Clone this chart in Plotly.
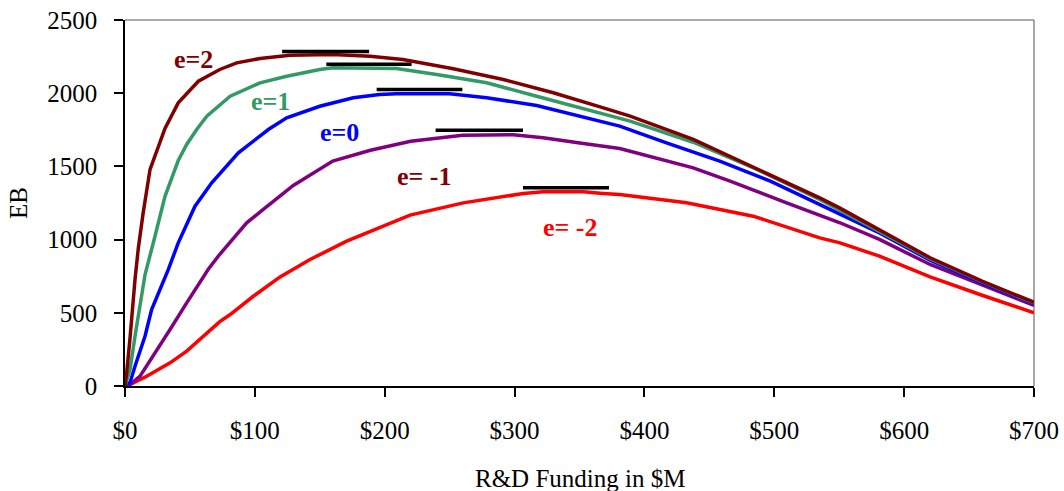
import plotly.graph_objects as go

# ---- data ----
x_e2 = [0, 1.3, 3.9, 6.4, 7.7, 10.3, 14, 19.3, 25.6, 30.8, 41, 56.5, 73, 86, 104, 127, 160, 188.7, 214, 252.8, 291.3, 329.8, 368.4, 389, 437.6, 484, 535, 550.6, 581, 620, 660, 700]
y_e2 = [0, 90, 330, 620, 727, 945, 1183, 1480, 1638, 1760, 1934, 2082, 2162, 2207, 2237, 2260, 2264, 2253, 2230, 2167, 2094, 2003, 1900, 1843, 1684, 1497, 1285, 1215, 1069, 876, 716, 572]

x_e1 = [0, 3.9, 7.7, 11.6, 15.4, 23.1, 30.8, 41, 47.5, 55.2, 63, 81, 104, 124.5, 150, 160, 188.7, 209, 240, 278.5, 317, 355.5, 389, 437.6, 484, 535, 581, 620, 660, 700]
y_e1 = [0, 113, 340, 568, 760, 1023, 1296, 1540, 1650, 1752, 1843, 1979, 2071, 2116, 2162, 2173, 2169, 2169, 2128, 2071, 1979, 1889, 1809, 1665, 1490, 1274, 1057, 870, 712, 568]

x_e0 = [0, 3.9, 7.7, 11.6, 15.4, 20.5, 27, 33.4, 41, 53.9, 66.8, 87.3, 110.4, 124.5, 150, 175.8, 196, 209, 250, 278.5, 317, 348, 381, 417, 458, 497, 535, 550.6, 581, 620, 660, 700]
y_e0 = [0, 24, 135, 249, 340, 522, 659, 796, 978, 1228, 1388, 1593, 1752, 1832, 1911, 1969, 1991, 1996, 1996, 1969, 1916, 1848, 1775, 1661, 1536, 1399, 1240, 1171, 1046, 859, 705, 562]

x_em1 = [0, 3.9, 11.6, 21.8, 34.7, 47.5, 64, 73, 93.7, 106.5, 129.6, 160, 189, 220, 260, 299, 322, 353, 381, 437.6, 466, 509.5, 550.6, 581, 620, 660, 700]
y_em1 = [0, 10, 67, 204, 386, 568, 796, 900, 1115, 1206, 1370, 1536, 1610, 1672, 1713, 1716, 1695, 1656, 1622, 1490, 1399, 1251, 1115, 1001, 830, 690, 550]

x_em2 = [0, 3.9, 16.7, 34.7, 47.5, 63, 73, 81, 98.8, 119.4, 142.5, 170.7, 188.7, 219.5, 260.5, 306.7, 322, 353, 368, 381, 432.5, 483.8, 535, 550.6, 581, 620, 660, 700]
y_em2 = [0, 10, 67, 158, 238, 363, 440, 488, 613, 745, 864, 989, 1057, 1167, 1251, 1315, 1326, 1326, 1315, 1308, 1251, 1160, 1012, 978, 887, 746, 620, 500]

# black horizontal marker bars: [x_start, x_end], level
bar_x = [[121, 188], [155, 220.7], [193.8, 259.8], [239.2, 306.5], [306.5, 372.7]]
bar_y = [2285, 2198, 2025, 1747, 1354]

labels = ["e=2", "e=1", "e=0", "e= -1", "e= -2"]
label_x = [53, 112, 165, 231, 343]
label_y = [2230, 1945, 1730, 1433, 1081]
label_colors = ["#800000", "#339966", "#0000FF", "#800000", "#FF0000"]

series = [
    (x_e2, y_e2, "#800000"),
    (x_e1, y_e1, "#339966"),
    (x_e0, y_e0, "#0000FF"),
    (x_em1, y_em1, "#800080"),
    (x_em2, y_em2, "#FF0000"),
]

x_ticks = [0, 100, 200, 300, 400, 500, 600, 700]
y_ticks = [0, 500, 1000, 1500, 2000, 2500]

FONT = "Liberation Serif, Times New Roman, serif"

fig = go.Figure()
for xs, ys, c in reversed(series):
    fig.add_trace(go.Scatter(x=xs, y=ys, mode="lines",
                             line=dict(color=c, width=3.5), showlegend=False,
                             hoverinfo="skip"))
for bx, by in zip(bar_x, bar_y):
    fig.add_trace(go.Scatter(x=bx, y=[by, by], mode="lines",
                             line=dict(color="black", width=3.5), showlegend=False,
                             hoverinfo="skip"))

for t, lx, ly, lc in zip(labels, label_x, label_y, label_colors):
    fig.add_annotation(x=lx, y=ly, text=f"<b>{t}</b>", showarrow=False,
                       font=dict(family=FONT, size=26, color=lc),
                       xanchor="center", yanchor="middle")

# axis titles
fig.add_annotation(xref="paper", yref="paper", x=0.5, y=0, yshift=-92,
                   text="R&D Funding in $M", showarrow=False,
                   font=dict(family=FONT, size=25, color="black"),
                   xanchor="center", yanchor="middle")
fig.add_annotation(xref="paper", yref="paper", x=0, y=0.5, xshift=-107,
                   text="EB", showarrow=False, textangle=-90,
                   font=dict(family=FONT, size=25, color="black"),
                   xanchor="center", yanchor="middle")

# gray top/right border
fig.add_shape(type="line", xref="paper", yref="paper", x0=0, x1=1, y0=1, y1=1,
              line=dict(color="#8c8c8c", width=1.5), layer="below")
fig.add_shape(type="line", xref="paper", yref="paper", x0=1, x1=1, y0=0, y1=1,
              line=dict(color="#8c8c8c", width=1.5), layer="below")

fig.update_xaxes(range=[0, 700], tickvals=x_ticks,
                 ticktext=[f"${v}" for v in x_ticks],
                 ticks="outside", ticklen=9, tickwidth=1.5, tickcolor="black",
                 showline=True, linecolor="black", linewidth=1.5,
                 showgrid=False, zeroline=False, ticklabelstandoff=12,
                 automargin=False,
                 tickfont=dict(family=FONT, size=25, color="black"))
fig.update_yaxes(range=[0, 2500], tickvals=y_ticks,
                 ticks="outside", ticklen=9, tickwidth=1.5, tickcolor="black",
                 showline=True, linecolor="black", linewidth=1.5,
                 showgrid=False, zeroline=False, ticklabelstandoff=12,
                 automargin=False,
                 tickfont=dict(family=FONT, size=25, color="black"))

fig.update_layout(width=1064, height=491, autosize=False,
                  margin=dict(l=125, r=30, t=20, b=105, pad=0, autoexpand=False),
                  plot_bgcolor="white", paper_bgcolor="white")

fig.write_html("out.html", config={"displayModeBar": False},
               post_script="document.body.style.margin='0';document.body.style.overflow='hidden';")
